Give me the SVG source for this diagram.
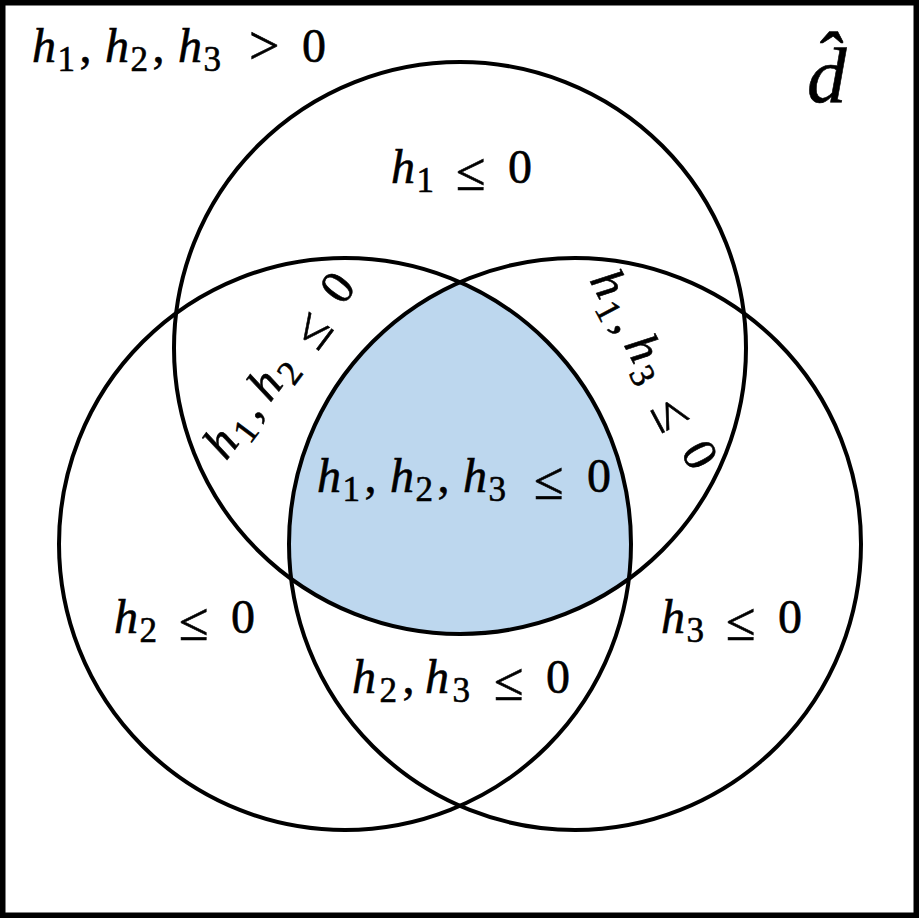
<svg xmlns="http://www.w3.org/2000/svg" width="919" height="918" viewBox="0 0 919 918">
<style>
.c{fill:none;stroke:#000;stroke-width:4}
text{font-family:'Liberation Serif','Times New Roman',serif;fill:#000;stroke:#000;stroke-width:0.6px}
.mi{font-style:italic;font-size:48px}
.mn{font-style:normal;font-size:48px}
.sb{font-style:normal;font-size:35px}
.rl{font-style:normal;font-size:54px}
</style>
<rect x="0" y="0" width="919" height="918" fill="#fff"/>
<g id="frame"><rect x="2.75" y="2.75" width="913.5" height="912.5" fill="none" stroke="#000" stroke-width="5.5"/></g>
<g id="region-all">
<path d="M460,282.1 A286,286 0 0 0 291.1,578.9 A286,286 0 0 0 628.9,578.9 A286,286 0 0 0 460,282.1 Z" fill="#bdd7ee"/>
</g>
<g id="circle-h1"><circle class="c" cx="460" cy="348" r="286"/></g>
<g id="circle-h2"><circle class="c" cx="345" cy="544" r="286"/></g>
<g id="circle-h3"><circle class="c" cx="575" cy="544" r="286"/></g>
<g id="labels">
<text class="mi" y="62"><tspan x="32">h</tspan><tspan class="sb" x="57.5" y="71">1</tspan><tspan class="mn" x="79.5" y="62">,</tspan><tspan x="105" y="62">h</tspan><tspan class="sb" x="130.5" y="71">2</tspan><tspan class="mn" x="152.5" y="62">,</tspan><tspan x="178" y="62">h</tspan><tspan class="sb" x="203.5" y="71">3</tspan><tspan class="rl" x="249" y="64">&gt;</tspan><tspan class="mn" x="302" y="62">0</tspan></text>
<text x="807" y="102" style="font-style:italic;font-size:79px">d̂</text>
<text class="mi" y="183"><tspan x="391">h</tspan><tspan class="sb" x="416.5" y="192">1</tspan><tspan class="rl" x="456" y="190">≤</tspan><tspan class="mn" x="508" y="183">0</tspan></text>
<text class="mi" y="633"><tspan x="114">h</tspan><tspan class="sb" x="139.5" y="642">2</tspan><tspan class="rl" x="179" y="640">≤</tspan><tspan class="mn" x="231" y="633">0</tspan></text>
<text class="mi" y="633"><tspan x="661">h</tspan><tspan class="sb" x="686.5" y="642">3</tspan><tspan class="rl" x="726" y="640">≤</tspan><tspan class="mn" x="778" y="633">0</tspan></text>
<text class="mi" y="693"><tspan x="352">h</tspan><tspan class="sb" x="379.5" y="702">2</tspan><tspan class="mn" x="402.5" y="693">,</tspan><tspan x="425" y="693">h</tspan><tspan class="sb" x="452.5" y="702">3</tspan><tspan class="rl" x="494" y="700">≤</tspan><tspan class="mn" x="546" y="693">0</tspan></text>
<text class="mi" y="492"><tspan x="317">h</tspan><tspan class="sb" x="342.5" y="501">1</tspan><tspan class="mn" x="364.5" y="492">,</tspan><tspan x="390" y="492">h</tspan><tspan class="sb" x="415.5" y="501">2</tspan><tspan class="mn" x="437.5" y="492">,</tspan><tspan x="463" y="492">h</tspan><tspan class="sb" x="488.5" y="501">3</tspan><tspan class="rl" x="534" y="499">≤</tspan><tspan class="mn" x="587" y="492">0</tspan></text>
<text class="mi" transform="translate(226.7,460.7) rotate(-53)" y="0"><tspan x="-1">h</tspan><tspan class="sb" x="26.5" y="9">1</tspan><tspan class="mn" x="49.5" y="0">,</tspan><tspan x="72" y="0">h</tspan><tspan class="sb" x="99.5" y="9">2</tspan><tspan class="rl" x="141" y="7">≤</tspan><tspan class="mn" x="193" y="0">0</tspan></text>
<text class="mi" transform="translate(589.6,281.2) rotate(62)" y="0"><tspan x="-1">h</tspan><tspan class="sb" x="26.5" y="9">1</tspan><tspan class="mn" x="49.5" y="0">,</tspan><tspan x="72" y="0">h</tspan><tspan class="sb" x="99.5" y="9">3</tspan><tspan class="rl" x="141" y="7">≤</tspan><tspan class="mn" x="193" y="0">0</tspan></text>
</g>
</svg>
